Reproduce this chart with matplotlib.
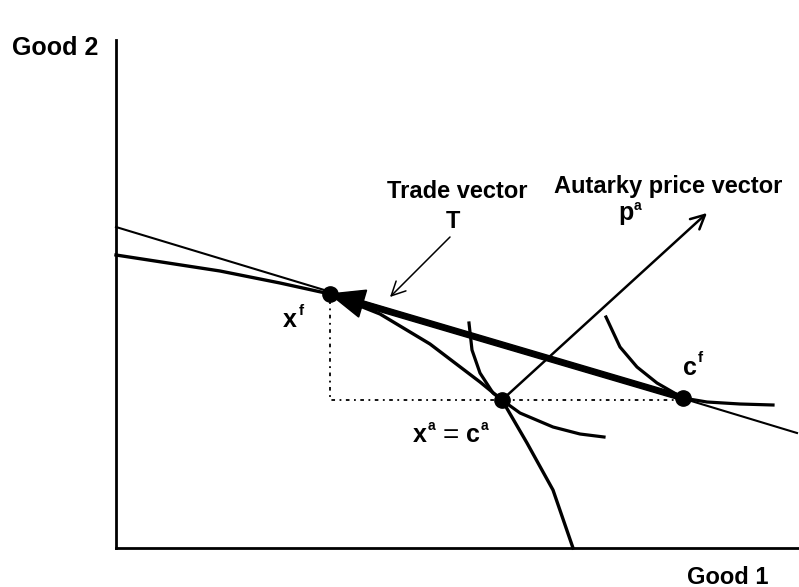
# Trade diagram: production x^f, consumption c^f, autarky point x^a = c^a
import matplotlib.pyplot as plt

plt.rcParams['font.family'] = ['Liberation Sans', 'DejaVu Sans']

# key points (good 1, good 2)
xf = (21.4, 25.4)
xa = (38.6, 14.8)
cf = (56.7, 15.0)

# world price line
price_x = [0.0, 68.1]
price_y = [32.1, 11.5]

# production possibility frontier
ppf_x = [0.0, 10.4, 16.4, 21.4, 26.4, 31.4, 36.4, 38.6, 41.1, 43.7, 45.7]
ppf_y = [29.3, 27.7, 26.5, 25.4, 23.4, 20.4, 16.6, 14.8, 10.5, 5.8, 0.0]

# indifference curve through autarky point
ic_a_x = [35.3, 35.6, 36.4, 37.7, 38.6, 40.4, 43.7, 46.4, 48.8]
ic_a_y = [22.5, 19.8, 17.5, 15.5, 14.8, 13.5, 12.1, 11.4, 11.1]

# indifference curve through free trade consumption
ic_f_x = [49.0, 50.4, 52.1, 54.1, 56.7, 59.1, 62.4, 65.7]
ic_f_y = [23.1, 20.1, 18.1, 16.5, 15.0, 14.6, 14.4, 14.3]

# autarky price vector tip, trade vector label arrow
pa_tip = (59.1, 33.5)
t_label_from = (33.4, 31.1)
t_label_to = (27.4, 25.1)

fig = plt.figure(figsize=(7.99, 5.87), dpi=100)
ax = fig.add_axes([116 / 799, 39 / 587, 683 / 799, 508 / 587])
ax.set_xlim(0, 68.3)
ax.set_ylim(0, 50.8)
ax.spines['top'].set_visible(False)
ax.spines['right'].set_visible(False)
ax.spines['left'].set_linewidth(2)
ax.spines['bottom'].set_linewidth(2)
ax.set_xticks([])
ax.set_yticks([])

ax.plot(price_x, price_y, color='black', lw=1.5, clip_on=False)
ax.plot(ppf_x, ppf_y, color='black', lw=2.4, clip_on=False, solid_joinstyle='round')
ax.plot(ic_a_x, ic_a_y, color='black', lw=2.3, solid_joinstyle='round')
ax.plot(ic_f_x, ic_f_y, color='black', lw=2.3, solid_joinstyle='round')

# dotted guides
ax.plot([xf[0], xf[0], cf[0]], [xf[1], xa[1], xa[1]], color='black', lw=1.3,
        linestyle=(0, (1, 2.5, 2, 2.5)))

# trade vector
ax.arrow(cf[0], cf[1], xf[0] - cf[0], xf[1] - cf[1], width=0.55, head_width=2.8,
         head_length=3.4, length_includes_head=True, fc='black', ec='black', zorder=4)

# autarky price vector
ax.annotate('', xy=pa_tip, xytext=xa,
            arrowprops=dict(arrowstyle='->,head_length=1.0,head_width=0.5', lw=1.8,
                            color='black', shrinkA=0, shrinkB=0))
ax.annotate('', xy=t_label_to, xytext=t_label_from,
            arrowprops=dict(arrowstyle='->,head_length=1.0,head_width=0.5', lw=1.1,
                            color='black', shrinkA=0, shrinkB=0))

ax.plot([xf[0], xa[0], cf[0]], [xf[1], xa[1], cf[1]], 'o', color='black', ms=11, zorder=5)

bold = dict(fontweight='bold', color='black', clip_on=False)
ax.text(-10.4, 50.0, 'Good 2', fontsize=18, ha='left', va='center', **bold)
ax.text(61.2, -2.9, 'Good 1', fontsize=17, ha='center', va='center', **bold)
ax.text(34.1, 35.6, 'Trade vector', fontsize=17, ha='center', va='center', **bold)
ax.text(33.7, 32.7, 'T', fontsize=17, ha='center', va='center', **bold)
ax.text(55.2, 36.1, 'Autarky price vector', fontsize=17, ha='center', va='center', **bold)

# point labels with superscripts
ax.text(50.2, 32.8, 'p', fontsize=18, ha='left', va='baseline', **bold)
ax.text(51.8, 33.8, 'a', fontsize=10, ha='left', va='baseline', **bold)
ax.text(16.7, 22.1, 'x', fontsize=18, ha='left', va='baseline', **bold)
ax.text(18.3, 23.3, 'f', fontsize=11, ha='left', va='baseline', **bold)
ax.text(56.7, 17.3, 'c', fontsize=18, ha='left', va='baseline', **bold)
ax.text(58.2, 18.6, 'f', fontsize=11, ha='left', va='baseline', **bold)
ax.text(29.7, 10.6, 'x', fontsize=18, ha='left', va='baseline', **bold)
ax.text(31.2, 11.8, 'a', fontsize=10, ha='left', va='baseline', **bold)
ax.text(33.5, 11.2, '=', fontsize=20, ha='center', va='center', color='black')
ax.text(35.0, 10.6, 'c', fontsize=18, ha='left', va='baseline', **bold)
ax.text(36.5, 11.8, 'a', fontsize=10, ha='left', va='baseline', **bold)

fig.savefig('out.png', dpi=100)
